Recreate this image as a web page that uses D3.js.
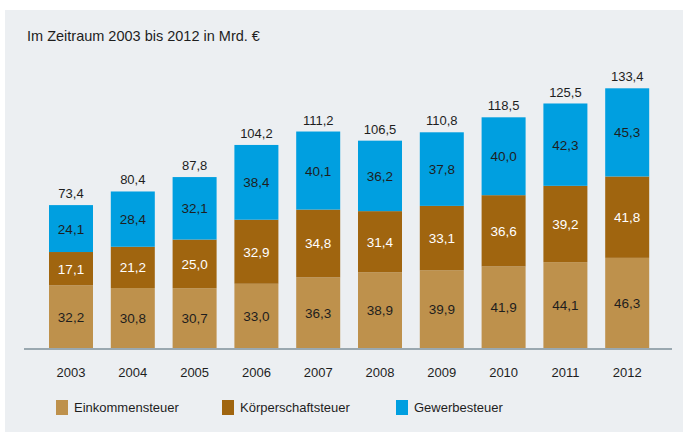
<!DOCTYPE html>
<html lang="de">
<head>
<meta charset="UTF-8"/>
<title>Steuern 2003-2012</title>
<script src="https://d3js.org/d3.v7.min.js"></script>
<style>
  body { margin: 0; background: #ffffff; }
  svg text { font-family: "Liberation Sans", Arial, sans-serif; fill: #1e1e1e; }
</style>
</head>
<body>
<script>
// data
var years = ["2003", "2004", "2005", "2006", "2007", "2008", "2009", "2010", "2011", "2012"];
var einkommen = [32.2, 30.8, 30.7, 33.0, 36.3, 38.9, 39.9, 41.9, 44.1, 46.3];
var koerperschaft = [17.1, 21.2, 25.0, 32.9, 34.8, 31.4, 33.1, 36.6, 39.2, 41.8];
var gewerbe = [24.1, 28.4, 32.1, 38.4, 40.1, 36.2, 37.8, 40.0, 42.3, 45.3];
var totals = [73.4, 80.4, 87.8, 104.2, 111.2, 106.5, 110.8, 118.5, 125.5, 133.4];
var seriesNames = ["Einkommensteuer", "Körperschaftsteuer", "Gewerbesteuer"];
var title = "Im Zeitraum 2003 bis 2012 in Mrd. €";

var w = 683, h = 432;
var colors = ["#be914c", "#a0650f", "#009fe0"];
var labelColors = ["#1e1e1e", "#ffffff", "#1e1e1e"];

var svg = d3.select("body").append("svg")
  .attr("width", w)
  .attr("height", h);

// grey panel
svg.append("rect")
  .attr("x", 5).attr("y", 10)
  .attr("width", w - 5).attr("height", h - 10)
  .attr("fill", "#eceff2");

svg.append("text")
  .attr("x", 27).attr("y", 41)
  .style("font-size", "14.5px")
  .text(title);

var x = d3.scaleBand()
  .domain(years)
  .range([49, 649.2])
  .paddingInner(0.288);

var y = d3.scaleLinear()
  .domain([0, 133.4])
  .range([348, 88.3]);

var rows = years.map(function(yr, i) {
  return { year: yr, e: einkommen[i], k: koerperschaft[i], g: gewerbe[i], total: totals[i] };
});

var stack = d3.stack().keys(["e", "k", "g"]);
var layers = stack(rows);

var layer = svg.selectAll("g.layer")
  .data(layers)
  .enter()
  .append("g")
  .attr("class", "layer");

layer.selectAll("rect")
  .data(function(d) { return d; })
  .enter()
  .append("rect")
  .attr("x", function(d) { return x(d.data.year); })
  .attr("y", function(d) { return y(d[1]); })
  .attr("width", x.bandwidth())
  .attr("height", function(d) { return y(d[0]) - y(d[1]); })
  .attr("fill", function(d, i, nodes) { return colors[layers.indexOf(d3.select(nodes[i].parentNode).datum())]; });

layer.each(function(L, li) {
  d3.select(this).selectAll("text")
    .data(L)
    .enter()
    .append("text")
    .attr("x", function(d) { return x(d.data.year) + x.bandwidth() / 2; })
    .attr("y", function(d) { return (y(d[0]) + y(d[1])) / 2 + 5; })
    .attr("text-anchor", "middle")
    .style("font-size", "13.5px")
    .style("fill", labelColors[li])
    .text(function(d) { return d3.format(".1f")(d[1] - d[0]).replace(".", ","); });
});

// totals
svg.selectAll("text.total")
  .data(rows)
  .enter()
  .append("text")
  .attr("class", "total")
  .attr("x", function(d) { return x(d.year) + x.bandwidth() / 2; })
  .attr("y", function(d) { return y(d.total) - 7; })
  .attr("text-anchor", "middle")
  .style("font-size", "13px")
  .text(function(d) { return d3.format(".1f")(d.total).replace(".", ","); });

// baseline
svg.append("line")
  .attr("x1", 24).attr("x2", 672)
  .attr("y1", 349).attr("y2", 349)
  .attr("stroke", "#9aa8b0")
  .attr("stroke-width", 2);

// year labels
var xAxis = d3.axisBottom(x).tickSize(0).tickPadding(0);
var ax = svg.append("g")
  .attr("transform", "translate(0,366)")
  .call(xAxis);
ax.select(".domain").remove();
ax.selectAll("text")
  .attr("dy", "0.85em")
  .style("font-size", "13px")
  .style("font-family", "'Liberation Sans', Arial, sans-serif")
  .style("fill", "#1e1e1e");

// legend
var legendX = [56, 222, 396];
var legend = svg.selectAll("g.legend")
  .data(seriesNames)
  .enter()
  .append("g")
  .attr("class", "legend")
  .attr("transform", function(d, i) { return "translate(" + legendX[i] + ",400)"; });

legend.append("rect")
  .attr("width", 12).attr("height", 15)
  .attr("fill", function(d, i) { return colors[i]; });

legend.append("text")
  .attr("x", 18).attr("y", 12)
  .style("font-size", "13px")
  .text(function(d) { return d; });
</script>
</body>
</html>
